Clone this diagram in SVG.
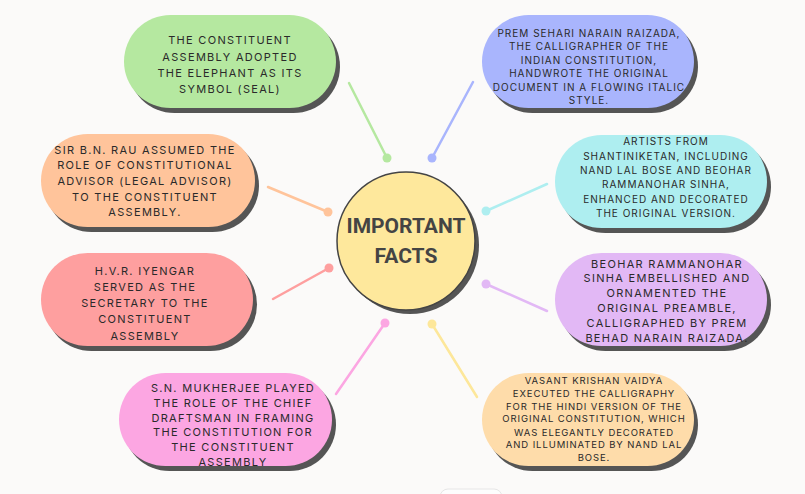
<svg xmlns="http://www.w3.org/2000/svg" width="805" height="494" viewBox="0 0 805 494">
<style>
.bg{fill:#fbfaf9}
.sh{fill:#555555}
.t{font-family:Inter,"Noto Sans","Liberation Sans",sans-serif;fill:#2a2a2a;text-anchor:middle;font-size:11px;letter-spacing:1.3px}
.s{font-size:10px;letter-spacing:1px}
.xs{font-size:9.5px;letter-spacing:0.9px}
.ln{stroke-width:2.5;fill:none;stroke-linecap:round}
.title{font-family:Roboto,"Liberation Sans",sans-serif;font-weight:bold;font-size:21px;fill:#444;text-anchor:middle}
</style>
<rect class="bg" x="0" y="0" width="805" height="494"/>
<g id="connectors">
<line class="ln" x1="349" y1="83" x2="387" y2="158" stroke="#b5e8a0"/><circle cx="387" cy="158" r="4.5" fill="#b5e8a0"/>
<line class="ln" x1="268" y1="187" x2="328" y2="212" stroke="#ffc49b"/><circle cx="328" cy="212" r="4.5" fill="#ffc49b"/>
<line class="ln" x1="473" y1="82" x2="432" y2="158" stroke="#a9b5fd"/><circle cx="432" cy="158" r="4.5" fill="#a9b5fd"/>
<line class="ln" x1="547" y1="184" x2="486" y2="211" stroke="#aeeef0"/><circle cx="486" cy="211" r="4.5" fill="#aeeef0"/>
<line class="ln" x1="273" y1="299" x2="329" y2="268" stroke="#fe9f9f"/><circle cx="329" cy="268" r="4.5" fill="#fe9f9f"/>
<line class="ln" x1="336" y1="394" x2="385" y2="323" stroke="#fca6e2"/><circle cx="385" cy="323" r="4.5" fill="#fca6e2"/>
<line class="ln" x1="547" y1="311" x2="486" y2="284" stroke="#e2b8f5"/><circle cx="486" cy="284" r="4.5" fill="#e2b8f5"/>
<line class="ln" x1="477" y1="397" x2="432" y2="324" stroke="#fde79a"/><circle cx="432" cy="324" r="4.5" fill="#fde79a"/>
</g>
<g id="center">
<circle class="sh" cx="410" cy="245" r="69"/>
<circle cx="406" cy="241" r="69" fill="#fee89c" stroke="#444" stroke-width="1.5"/>
<text class="title" x="406" y="233">IMPORTANT</text>
<text class="title" x="406" y="263">FACTS</text>
</g>
<g id="n-seal">
<rect class="sh" x="128" y="20" width="212" height="93" rx="46.5"/>
<rect x="124" y="15" width="212" height="93" rx="46.5" fill="#b5e8a0"/>
<text class="t" x="230" y="44">THE CONSTITUENT</text>
<text class="t" x="230" y="61">ASSEMBLY ADOPTED</text>
<text class="t" x="230" y="77">THE ELEPHANT AS ITS</text>
<text class="t" x="230" y="93">SYMBOL (SEAL)</text>
</g>
<g id="n-rau">
<rect class="sh" x="45" y="139" width="214" height="93" rx="46.5"/>
<rect x="41" y="134" width="214" height="93" rx="46.5" fill="#ffc49b"/>
<text class="t" x="145" y="154">SIR B.N. RAU ASSUMED THE</text>
<text class="t" x="145" y="169">ROLE OF CONSTITUTIONAL</text>
<text class="t" x="145" y="185">ADVISOR (LEGAL ADVISOR)</text>
<text class="t" x="145" y="201">TO THE CONSTITUENT</text>
<text class="t" x="145" y="216">ASSEMBLY.</text>
</g>
<g id="n-raizada">
<rect class="sh" x="486" y="20" width="212" height="93" rx="46.5"/>
<rect x="482" y="15" width="212" height="93" rx="46.5" fill="#a9b5fd"/>
<text class="t s" x="589" y="37">PREM SEHARI NARAIN RAIZADA,</text>
<text class="t s" x="589" y="50">THE CALLIGRAPHER OF THE</text>
<text class="t s" x="589" y="64">INDIAN CONSTITUTION,</text>
<text class="t s" x="589" y="77">HANDWROTE THE ORIGINAL</text>
<text class="t s" x="589" y="91">DOCUMENT IN A FLOWING ITALIC</text>
<text class="t s" x="589" y="104">STYLE.</text>
</g>
<g id="n-artists">
<rect class="sh" x="559" y="140" width="212" height="93" rx="46.5"/>
<rect x="555" y="135" width="212" height="93" rx="46.5" fill="#aeeef0"/>
<text class="t s" x="666" y="145">ARTISTS FROM</text>
<text class="t s" x="666" y="160">SHANTINIKETAN, INCLUDING</text>
<text class="t s" x="666" y="174">NAND LAL BOSE AND BEOHAR</text>
<text class="t s" x="666" y="188">RAMMANOHAR SINHA,</text>
<text class="t s" x="666" y="203">ENHANCED AND DECORATED</text>
<text class="t s" x="666" y="217">THE ORIGINAL VERSION.</text>
</g>
<g id="n-iyengar">
<rect class="sh" x="45" y="258" width="212" height="93" rx="46.5"/>
<rect x="41" y="253" width="212" height="93" rx="46.5" fill="#fe9f9f"/>
<text class="t" x="145" y="275">H.V.R. IYENGAR</text>
<text class="t" x="145" y="291">SERVED AS THE</text>
<text class="t" x="145" y="307">SECRETARY TO THE</text>
<text class="t" x="145" y="323">CONSTITUENT</text>
<text class="t" x="145" y="340">ASSEMBLY</text>
</g>
<g id="n-mukherjee">
<rect class="sh" x="123" y="378" width="213" height="93" rx="46.5"/>
<rect x="119" y="373" width="213" height="93" rx="46.5" fill="#fca6e2"/>
<text class="t" x="233" y="392">S.N. MUKHERJEE PLAYED</text>
<text class="t" x="233" y="407">THE ROLE OF THE CHIEF</text>
<text class="t" x="233" y="422">DRAFTSMAN IN FRAMING</text>
<text class="t" x="233" y="436">THE CONSTITUTION FOR</text>
<text class="t" x="233" y="451">THE CONSTITUENT</text>
<text class="t" x="233" y="466">ASSEMBLY</text>
</g>
<g id="n-beohar">
<rect class="sh" x="559" y="258" width="212" height="93" rx="46.5"/>
<rect x="555" y="253" width="212" height="93" rx="46.5" fill="#e2b8f5"/>
<text class="t" x="667" y="268">BEOHAR RAMMANOHAR</text>
<text class="t" x="667" y="282">SINHA EMBELLISHED AND</text>
<text class="t" x="667" y="297">ORNAMENTED THE</text>
<text class="t" x="667" y="312">ORIGINAL PREAMBLE,</text>
<text class="t" x="667" y="327">CALLIGRAPHED BY PREM</text>
<text class="t" x="667" y="342">BEHAD NARAIN RAIZADA.</text>
</g>
<g id="n-vaidya">
<rect class="sh" x="486" y="378" width="212" height="93" rx="46.5"/>
<rect x="482" y="373" width="212" height="93" rx="46.5" fill="#fedcaa"/>
<text class="t xs" x="594" y="384">VASANT KRISHAN VAIDYA</text>
<text class="t xs" x="594" y="397">EXECUTED THE CALLIGRAPHY</text>
<text class="t xs" x="594" y="410">FOR THE HINDI VERSION OF THE</text>
<text class="t xs" x="594" y="422">ORIGINAL CONSTITUTION, WHICH</text>
<text class="t xs" x="594" y="436">WAS ELEGANTLY DECORATED</text>
<text class="t xs" x="594" y="448">AND ILLUMINATED BY NAND LAL</text>
<text class="t xs" x="594" y="461">BOSE.</text>
</g>
<rect x="440" y="489" width="62" height="20" rx="8" fill="#fdfdfd" stroke="#e6e6e6" stroke-width="1"/>
</svg>
